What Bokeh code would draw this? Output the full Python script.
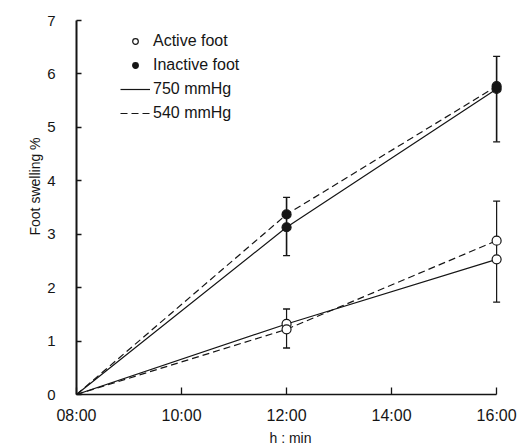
from bokeh.plotting import figure
from bokeh.models import (ColumnDataSource, Whisker, TeeHead, Title, Legend,
                          LegendItem, FixedTicker)
from bokeh.embed import file_html
from bokeh.resources import INLINE

# ---------------- data ----------------
times = [8, 12, 16]                       # hours
active_750 = [0, 1.32, 2.53]
active_540 = [0, 1.22, 2.88]
inactive_750 = [0, 3.13, 5.72]
inactive_540 = [0, 3.37, 5.77]

err_times = [12, 16]
active_err_upper = [1.60, 3.62]
active_err_lower = [0.87, 1.73]
inactive_err_upper = [3.69, 6.33]
inactive_err_lower = [2.60, 4.73]

x_ticks = [8, 10, 12, 14, 16]
x_tick_labels = ["08:00", "10:00", "12:00", "14:00", "16:00"]
y_ticks = [0, 1, 2, 3, 4, 5, 6, 7]

INK = "#151515"
FONT = "Liberation Sans"

p = figure(width=519, height=448, output_backend="svg", toolbar_location=None,
           x_range=(8, 16.15), y_range=(0, 7),
           min_border_left=76, min_border_right=15,
           min_border_top=20, min_border_bottom=54)
p.grid.visible = False
p.outline_line_color = None
p.background_fill_color = "white"

# error bars (the 16:00 inactive bar is drawn a little heavier in the original)
for ups, lows, lw in ((active_err_upper, active_err_lower, 1.2),
                      (inactive_err_upper, inactive_err_lower, 1.6)):
    src = ColumnDataSource(dict(x=err_times, upper=ups, lower=lows))
    w = Whisker(source=src, base="x", upper="upper", lower="lower",
                line_color=INK, line_width=lw, level="underlay",
                upper_head=TeeHead(size=7, line_color=INK, line_width=1.3),
                lower_head=TeeHead(size=7, line_color=INK, line_width=1.3))
    p.add_layout(w)

# lines
r_solid = p.line(times, active_750, line_color=INK, line_width=1.2)
p.line(times, inactive_750, line_color=INK, line_width=1.2)
r_dash = p.line(times, active_540, line_color=INK, line_width=1.2, line_dash="7 4")
p.line(times, inactive_540, line_color=INK, line_width=1.2, line_dash="7 4")

# markers
mx = times[1:] + times[1:]
r_active = p.scatter(mx, active_750[1:] + active_540[1:], marker="circle", size=9,
                     fill_color="white", line_color=INK, line_width=1.2)
r_inactive = p.scatter(mx, inactive_750[1:] + inactive_540[1:], marker="circle", size=9,
                       fill_color=INK, line_color=INK, line_width=1.2)

# axes
p.xaxis.ticker = FixedTicker(ticks=x_ticks)
p.xaxis.major_label_overrides = {t: l for t, l in zip(x_ticks, x_tick_labels)}
p.xaxis.bounds = (8, 16)
p.yaxis.ticker = FixedTicker(ticks=y_ticks)
for ax in (p.xaxis[0], p.yaxis[0]):
    ax.axis_line_color = INK
    ax.major_tick_line_color = INK
    ax.major_tick_out = 0
    ax.minor_tick_line_color = None
    ax.major_label_text_font = FONT
    ax.major_label_text_color = INK
    ax.axis_label_text_font = FONT
    ax.axis_label_text_font_style = "normal"
    ax.axis_label_text_color = INK
p.xaxis.axis_line_width = 1.6
p.xaxis.major_tick_line_width = 1.3
p.xaxis.major_tick_in = 7
p.xaxis.major_label_text_font_size = "16px"
p.xaxis.major_label_standoff = 12
p.xaxis.axis_label = "h : min"
p.xaxis.axis_label_text_font_size = "14px"
p.xaxis.axis_label_standoff = 3
p.yaxis.axis_line_width = 2
p.yaxis.major_tick_line_width = 1.3
p.yaxis.major_tick_in = 5
p.yaxis.major_label_text_font_size = "15px"
p.yaxis.major_label_standoff = 21

# y title, placed a bit above centre like the original
p.add_layout(Title(text="Foot swelling  %", align="left", offset=159,
                   text_font=FONT, text_font_size="14px", text_font_style="normal",
                   text_color=INK, standoff=4), "left")

legend = Legend(items=[LegendItem(label="Active foot", renderers=[r_active]),
                       LegendItem(label="Inactive foot", renderers=[r_inactive]),
                       LegendItem(label="750 mmHg", renderers=[r_solid]),
                       LegendItem(label="540 mmHg", renderers=[r_dash])],
                location=(44, 271), glyph_width=30, glyph_height=14,
                label_height=20, spacing=4, padding=0, margin=0,
                border_line_color=None, background_fill_alpha=0,
                label_standoff=3, label_text_font=FONT,
                label_text_font_size="16px", label_text_color=INK)
p.add_layout(legend)

open("out.html", "w").write(file_html(p, INLINE))
